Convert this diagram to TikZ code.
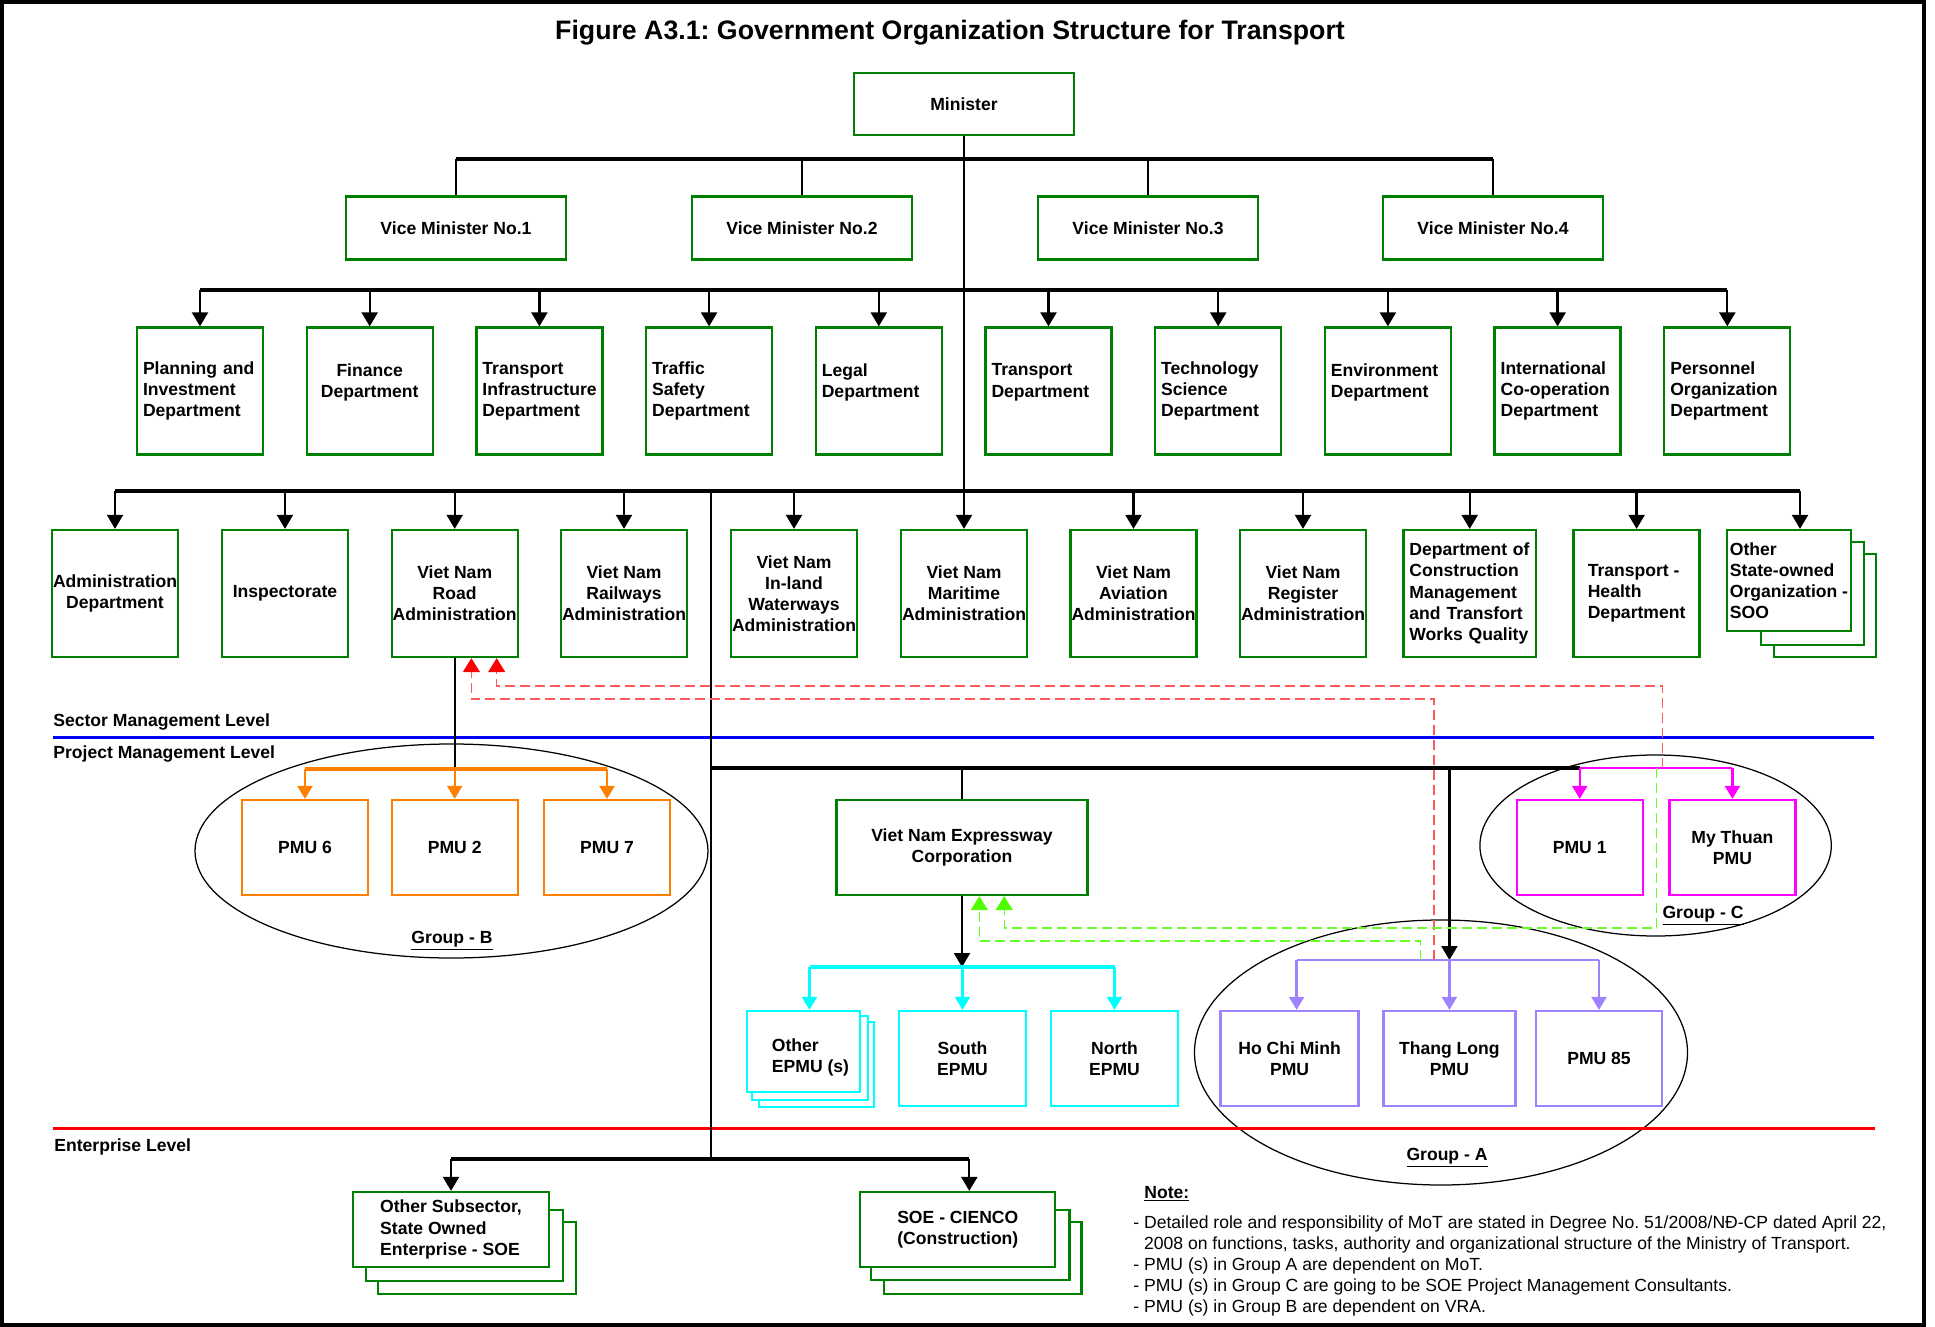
\documentclass[tikz,border=0pt]{standalone}
\usepackage{fontspec}
\setmainfont{Liberation Sans}
\usetikzlibrary{arrows.meta, positioning, calc, backgrounds}
\frenchspacing
\definecolor{boxGreen}{RGB}{0,128,0}
\definecolor{pmuOrange}{RGB}{255,128,0}
\definecolor{pmuMagenta}{RGB}{255,0,255}
\definecolor{epmuCyan}{RGB}{0,255,255}
\definecolor{pmuPurple}{RGB}{158,130,255}
\definecolor{levelBlue}{RGB}{0,0,255}
\definecolor{levelRed}{RGB}{255,0,0}
\definecolor{dashRed}{RGB}{255,90,90}
\definecolor{dashGreen}{RGB}{100,255,40}
\definecolor{tipGreen}{RGB}{80,255,0}

% back sheets of a stacked box: node, colour, offsets left/top/right/bottom
\newcommand{\backsheet}[6]{%
  \draw[#2, line width=0.45mm, fill=white] ($(#1.north west)+(#3,#4)$) rectangle ($(#1.south east)+(#5,#6)$);}

\tikzset{
  box/.style={draw=boxGreen, line width=0.45mm, fill=white, inner sep=0pt,
    font=\bfseries\fontsize{10}{12}\selectfont, align=center},
  deptbox/.style={box, minimum width=25.2mm, minimum height=25.4mm},
  deptleft/.style={deptbox, align=left, text width=22.8mm},
  vmbox/.style={box, minimum width=44mm, minimum height=12.6mm},
  pmubox/.style={box, minimum width=25.2mm, minimum height=19mm},
  link/.style={line width=0.45mm},
  bar/.style={line width=0.65mm},
  tip/.style={link, -{Triangle[width=3.2mm, length=2.8mm]}},
  ctip/.style={line width=0.45mm, -{Triangle[width=3mm, length=2.6mm]}},
  redlink/.style={dashRed, line width=0.25mm, dash pattern=on 2mm off 1mm,
    -{Triangle[width=3.4mm, length=2.8mm, color=levelRed]}},
  greenlink/.style={dashGreen, line width=0.25mm, dash pattern=on 2mm off 1mm,
    -{Triangle[width=3.4mm, length=2.8mm, color=tipGreen]}},
  level/.style={inner sep=0pt, anchor=base west, font=\bfseries\fontsize{10}{12}\selectfont},
  grouplabel/.style={inner sep=0pt, anchor=base, font=\bfseries\fontsize{10}{12}\selectfont}
}

\begin{document}
\begin{tikzpicture}[x=0.2mm, y=-0.2mm]
\useasboundingbox (0,0) rectangle (1935,1327);
\draw[line width=0.8mm] (2,2) rectangle (1924,1325);

\node[font=\bfseries\fontsize{15.2}{18}\selectfont] (title) at (950,33)
  {Figure A3.1: Government Organization Structure for Transport};

% group ellipses
\draw[line width=0.25mm] (451.5,851) ellipse [x radius=256.5, y radius=107];
\draw[line width=0.25mm] (1655.6,845.5) ellipse [x radius=175.7, y radius=90.5];
\draw[line width=0.25mm] (1441,1052.5) ellipse [x radius=246.5, y radius=132.5];

% level lines
\draw[levelBlue, line width=0.6mm] (53,737) -- (1874,737);
\draw[levelRed, line width=0.6mm] (53,1128) -- (1875,1128);
\node[level] (sector) at (53,726) {Sector Management Level};
\node[level] (project) at (53,758) {Project Management Level};
\node[level] (enterprise) at (54,1151) {Enterprise Level};

% minister and vice ministers
\node[box, minimum width=44mm, minimum height=12.4mm] (min) at (964,104) {Minister};
\node[vmbox] (vm1) at (456,228) {Vice Minister No.1};
\node[vmbox] (vm2) at (802,228) {Vice Minister No.2};
\node[vmbox] (vm3) at (1148,228) {Vice Minister No.3};
\node[vmbox] (vm4) at (1493,228) {Vice Minister No.4};

% departments
\node[deptleft] (plan) at (200,391) {Planning and\\Investment\\Department};
\node[deptbox] (fin) at (369.7,391) {Finance\\Department\\\mbox{}};
\node[deptleft] (infra) at (539.4,391) {Transport\\Infrastructure\\Department};
\node[deptleft] (safety) at (709.1,391) {Traffic\\Safety\\Department};
\node[deptleft] (legal) at (878.8,391) {Legal\\Department\\\mbox{}};
\node[deptleft] (transp) at (1048.5,391) {Transport\\Department\\\mbox{}};
\node[deptleft] (tech) at (1218.2,391) {Technology\\Science\\Department};
\node[deptleft] (env) at (1387.9,391) {Environment\\Department\\\mbox{}};
\node[deptleft] (intl) at (1557.6,391) {International\\Co-operation\\Department};
\node[deptleft] (pers) at (1727.3,391) {Personnel\\Organization\\Department};

% administrations
\node[deptbox] (admin) at (115,593.5) {Administration\\Department};
\node[deptbox] (insp) at (285,593.5) {Inspectorate};
\node[deptbox] (vnra) at (454.7,593.5) {Viet Nam\\Road\\Administration};
\node[deptbox] (rail) at (624,593.5) {Viet Nam\\Railways\\Administration};
\node[deptbox] (inland) at (794,593.5) {Viet Nam\\In-land\\Waterways\\Administration};
\node[deptbox] (marit) at (964,593.5) {Viet Nam\\Maritime\\Administration};
\node[deptbox] (aviat) at (1133.5,593.5) {Viet Nam\\Aviation\\Administration};
\node[deptbox] (regis) at (1303,593.5) {Viet Nam\\Register\\Administration};
\node[deptbox, minimum width=26.5mm, align=left, text width=24.1mm] (cons) at (1469.7,593.5)
  {Department of\\Construction\\Management\\and Transfort\\Works Quality};
\node[deptbox, align=left] (health) at (1636.6,593.5) {Transport -\\Health\\Department};
\node[box, align=left, minimum width=24.8mm, minimum height=20.2mm] (soo) at (1789,580.5)
  {Other\\State-owned\\Organization -\\SOO};

% project level
\node[pmubox, draw=pmuOrange] (pmu6) at (305,847.5) {PMU 6};
\node[pmubox, draw=pmuOrange] (pmu2) at (454.7,847.5) {PMU 2};
\node[pmubox, draw=pmuOrange] (pmu7) at (607,847.5) {PMU 7};
\node[pmubox, minimum width=50.2mm] (expw) at (962,847.5) {Viet Nam Expressway\\Corporation};
\node[pmubox, draw=pmuMagenta] (pmu1) at (1579.7,847.5) {PMU 1};
\node[pmubox, draw=pmuMagenta] (mythuan) at (1732.4,847.5) {My Thuan\\PMU};
\node[box, draw=epmuCyan, minimum width=22.6mm, minimum height=16.2mm] (oepmu) at (803.5,1051.5)
  {\raisebox{-1.2mm}[\height][\depth]{\hspace*{2.8mm}\begin{tabular}{@{}l@{}}Other\\EPMU (s)\end{tabular}}};
\node[pmubox, draw=epmuCyan, minimum width=25.4mm] (south) at (962.5,1058.5) {South\\EPMU};
\node[pmubox, draw=epmuCyan, minimum width=25.4mm] (north) at (1114.5,1058.5) {North\\EPMU};
\node[pmubox, draw=pmuPurple, minimum width=27.6mm] (hcm) at (1289.6,1058.5) {Ho Chi Minh\\PMU};
\node[pmubox, draw=pmuPurple, minimum width=26.4mm] (tl) at (1449.4,1058.5) {Thang Long\\PMU};
\node[pmubox, draw=pmuPurple] (pmu85) at (1599,1058.5) {PMU 85};

% enterprise level
\node[box, align=left, minimum width=39.2mm, minimum height=15mm] (osoe) at (451,1229.5)
  {Other Subsector,\\State Owned\\Enterprise - SOE};
\node[box, minimum width=39mm, minimum height=15mm] (cienco) at (957.8,1229.5)
  {SOE - CIENCO\\(Construction)};

\begin{pgfonlayer}{background}
  \backsheet{soo}{boxGreen}{48}{25}{24}{25}
  \backsheet{soo}{boxGreen}{35}{13}{12}{13}
  \backsheet{oepmu}{epmuCyan}{13}{12}{13}{14}
  \backsheet{oepmu}{epmuCyan}{6}{6}{7}{7}
  \backsheet{osoe}{boxGreen}{26}{31}{26}{26}
  \backsheet{osoe}{boxGreen}{14}{19}{13}{13}
  \backsheet{cienco}{boxGreen}{25}{31}{25}{26}
  \backsheet{cienco}{boxGreen}{12}{19}{13}{12}
\end{pgfonlayer}

% bar levels
\coordinate (vmrow) at (0,159);
\coordinate (rowA) at (0,290);
\coordinate (rowB) at (0,491);
\coordinate (split) at (711,491);
\coordinate (proj) at (711,768);
\coordinate (entr) at (711,1159);
\coordinate (bbar) at (0,769);
\coordinate (cbar) at (0,967);
\coordinate (abar) at (0,960);
\coordinate (sooTip) at ($(soo.north)+(11,0)$);
\coordinate (cienTip) at ($(cienco.north)+(11.5,0)$);

% top of the tree
\draw[tip] (min.south) -- (marit.north);
\draw[bar] (vm1.north |- vmrow) -- (vm4.north |- vmrow);
\foreach \n in {vm1,vm2,vm3,vm4}
  \draw[link] (\n.north |- vmrow) -- (\n.north);
\draw[bar] (plan.north |- rowA) -- (pers.north |- rowA);
\foreach \n in {plan,fin,infra,safety,legal,transp,tech,env,intl,pers}
  \draw[tip] (\n.north |- rowA) -- (\n.north);
\draw[bar] (admin.north |- rowB) -- (sooTip |- rowB);
\foreach \n in {admin,insp,vnra,rail,inland,aviat,regis,cons,health}
  \draw[tip] (\n.north |- rowB) -- (\n.north);
\draw[tip] (sooTip |- rowB) -- (sooTip);

% project and enterprise branches
\draw[link] (split) -- (entr);
\draw[bar] (proj) -- (pmu1.north |- proj);
\draw[link] (expw.north |- proj) -- (expw.north);
\draw[tip] (tl.north |- proj) -- (tl.north |- abar);
\draw[link] (vnra.south) -- (vnra.south |- bbar);
\draw[tip] (expw.south) -- (expw.south |- cbar);

\draw[pmuOrange, bar] (pmu6.north |- bbar) -- (pmu7.north |- bbar);
\foreach \n in {pmu6,pmu2,pmu7}
  \draw[pmuOrange, ctip] (\n.north |- bbar) -- (\n.north);
\draw[pmuMagenta, link] (pmu1.north |- proj) -- (mythuan.north |- proj);
\foreach \n in {pmu1,mythuan}
  \draw[pmuMagenta, ctip] (\n.north |- proj) -- (\n.north);
\draw[epmuCyan, bar] ($(oepmu.north |- cbar)+(6,0)$) -- (north.north |- cbar);
\draw[epmuCyan, ctip] ($(oepmu.north |- cbar)+(6,0)$) -- ($(oepmu.north)+(6,0)$);
\foreach \n in {south,north}
  \draw[epmuCyan, ctip] (\n.north |- cbar) -- (\n.north);
\draw[pmuPurple, link] ($(hcm.north |- abar)+(7,0)$) -- (pmu85.north |- abar);
\draw[pmuPurple, ctip] ($(hcm.north |- abar)+(7,0)$) -- ($(hcm.north)+(7,0)$);
\foreach \n in {tl,pmu85}
  \draw[pmuPurple, ctip] (\n.north |- abar) -- (\n.north);

\draw[bar] (osoe.north |- entr) -- (cienTip |- entr);
\draw[tip] (osoe.north |- entr) -- (osoe.north);
\draw[tip] (cienTip |- entr) -- (cienTip);

% reporting links
\coordinate (redA) at (1434,960);
\coordinate (redC) at (1662.7,768);
\coordinate (grnC) at (1656.5,768);
\coordinate (grnA) at (1420.8,960);
\draw[redlink] (redA) -- ++(0,-261) -| ($(vnra.south)+(16.7,0)$);
\draw[redlink] (redC) -- ++(0,-82) -| ($(vnra.south)+(42,0)$);
\draw[greenlink] (grnC) -- ++(0,160) -| ($(expw.south)+(42.2,0)$);
\draw[greenlink] (grnA) -- ++(0,-19) -| ($(expw.south)+(17.3,0)$);

% group labels
\node[grouplabel] (grpB) at (452,943) {\underline{Group - B}};
\node[grouplabel] (grpC) at (1703,918) {\underline{Group - C}};
\node[grouplabel] (grpA) at (1447,1160) {\underline{Group - A}};

% note
\node[inner sep=0pt, anchor=base west, font=\bfseries\fontsize{10}{12}\selectfont] (notehead) at (1144,1198) {\underline{Note:}};
\node[inner sep=0pt, anchor=north west, align=left, font=\fontsize{10}{11.95}\selectfont] (notes) at (1133,1215)
  {- Detailed role and responsibility of MoT are stated in Degree No. 51/2008/NĐ-CP dated April 22,\\
   \phantom{- }2008 on functions, tasks, authority and organizational structure of the Ministry of Transport.\\
   - PMU (s) in Group A are dependent on MoT.\\
   - PMU (s) in Group C are going to be SOE Project Management Consultants.\\
   - PMU (s) in Group B are dependent on VRA.};
\end{tikzpicture}
\end{document}
